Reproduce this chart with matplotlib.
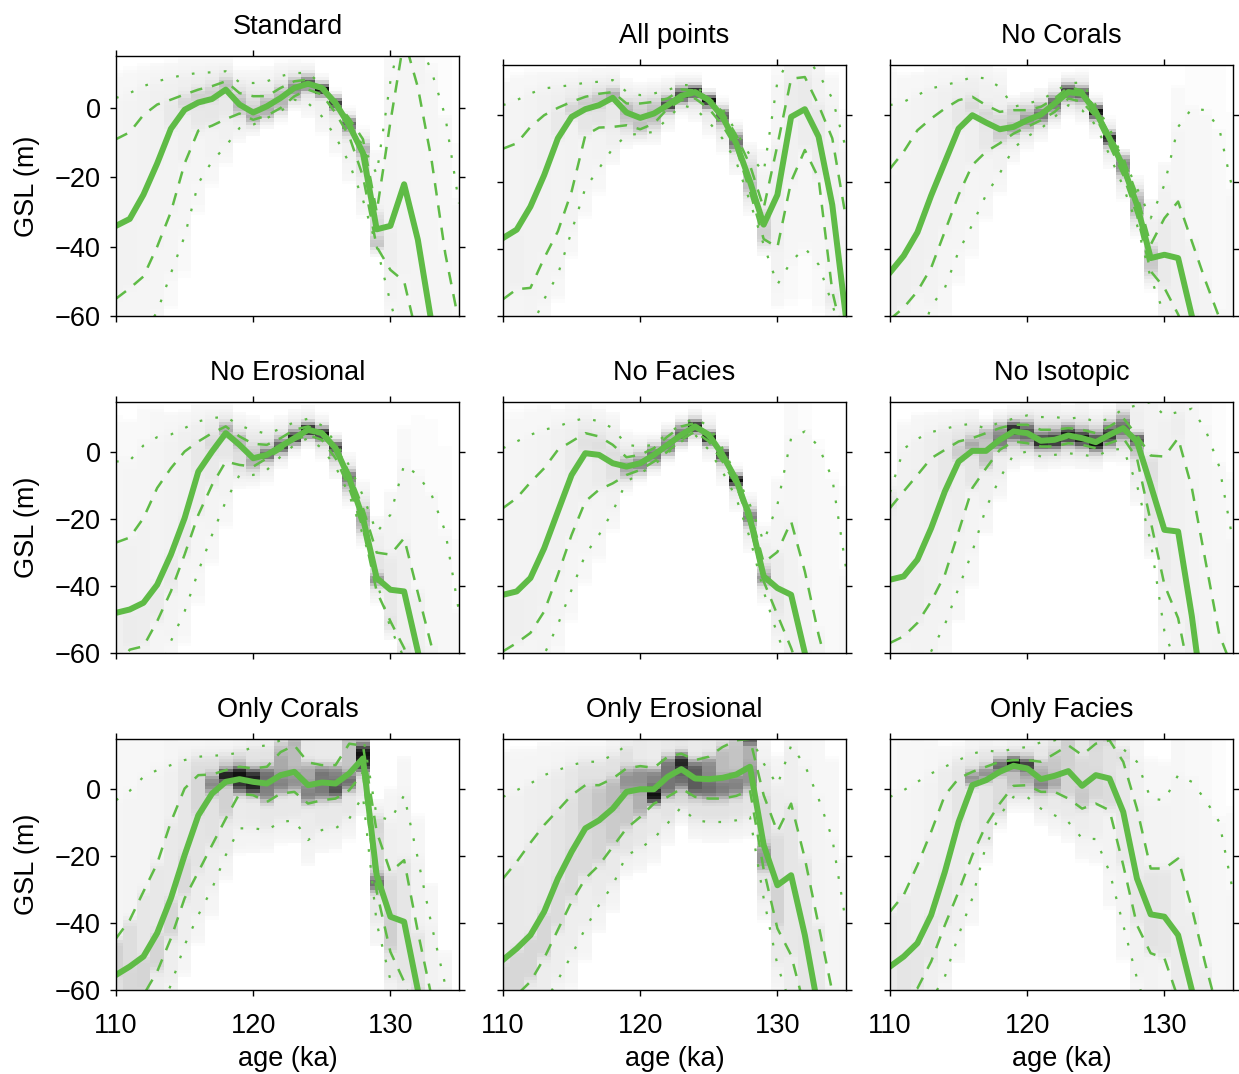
"""Sea-level reconstructions (GSL vs age) for nine data subsets, 3x3 panels."""

import matplotlib
import numpy as np

matplotlib.use("Agg")
import matplotlib.pyplot as plt
from matplotlib.colors import LinearSegmentedColormap

plt.rcParams["font.family"] = ["Liberation Sans", "DejaVu Sans"]
plt.rcParams["font.size"] = 19.5

ages = np.arange(110, 136)  # ka, one value per 1 ka

titles = ["Standard", "All points", "No Corals",
          "No Erosional", "No Facies", "No Isotopic",
          "Only Corals", "Only Erosional", "Only Facies"]

# percentiles: p2 = 2.5%, p16, p50 (median), p84, p97 = 97.5%
standard_p50 = [-34, -32, -25, -16, -6, -0.5, 1.6, 2.6, 5.3, 1, -1.3, 0.5, 2.9, 5.8, 7, 5.8, 1.4, -5, -13, -35, -34, -22, -38, -62, -85, -100]
standard_p84 = [-9, -7, -2, 1, 2.4, 3.9, 5.3, 6.3, 7.7, 4.3, 3.4, 3.4, 5.8, 7.7, 8.2, 5.3, 2, -3, -9, -30, -4, 20, 6, -15, -42, -62]
standard_p16 = [-55, -52, -48.6, -40, -30, -16, -6.5, -5.1, -3.2, -1.6, -3.4, -2.2, 0, 3.4, 5.3, 3.9, -1.4, -8.2, -19.7, -40, -46.7, -50, -67, -80, -95, -110]
standard_p97 = [2.9, 4.3, 6.3, 7.7, 8.7, 9.6, 10.1, 10.3, 10.6, 7.4, 7.2, 7.7, 9.2, 10.1, 10.1, 6.7, 2.4, -4, -11, -19, 7.7, 25, 20, 10.6, -2.4, -27.5]
standard_p2 = [-75, -70, -65, -58.8, -47.7, -37, -21.7, -15.4, -11, -5.8, -4.8, -2.9, -1, 2.4, 1.4, -2.4, -8.2, -15.9, -26.5, -40, -56, -70, -85, -100, -115, -130]

allpts_p50 = [-36.7, -34.2, -27.3, -17.9, -6.9, -0.5, 1.8, 3, 5.2, 0.8, -0.8, 0.5, 3, 5.8, 6.9, 4.5, -0.5, -8.4, -19.8, -32.7, -23.8, -0.5, 1.8, -6.4, -26.8, -60.5]
allpts_p84 = [-10, -8.4, -3.5, 0, 2.2, 4, 5.5, 6.4, 6.9, 3.5, 3.5, 4, 5, 7.7, 7.4, 5, 1, -6, -14.9, -27.8, -9, 10.9, 11.4, 3, -6.9, -30.8]
allpts_p16 = [-55, -52, -51.6, -42.7, -34.7, -22.8, -6, -3.7, -3.5, -3, -4.2, -2.5, 2, 4.5, 5, 2, -3, -9.9, -22.8, -37, -39.5, -19.8, -10.4, -18.8, -52.6, -70]
allpts_p97 = [3, 4.5, 6.5, 8, 8.5, 9, 9.7, 10, 10.5, 7, 6, 6.5, 7.5, 9, 9, 5, 2, -5, -12, -17, 10, 18, 18, 12.4, 5, -10]
allpts_p2 = [-75, -70, -64, -55, -47.6, -34.7, -21.8, -15.9, -9.9, -6, -5.5, -5, -1, 3, 2, -2, -7, -13.9, -25.8, -38.7, -50.6, -43.7, -39.7, -44.6, -56.5, -70]

nocor_p50 = [-47, -42, -35, -24, -14, -4, 0, -2.2, -4.2, -3.5, -1.5, 0.2, 3.5, 6.9, 6.4, 1, -6.9, -15.4, -26.8, -42.7, -41.7, -42.7, -60, -80, -95, -110]
nocor_p84 = [-16, -10.9, -4.5, -1, 2, 4.5, 5.5, 3, 1, 1.5, 1.5, 2.5, 5, 8.4, 7.4, 2, -6, -12.9, -23.8, -38.7, -30.8, -25.8, -37.7, -49.6, -60.5, -70]
nocor_p16 = [-61, -57.5, -52.6, -45.6, -34.7, -23.8, -14.9, -10.9, -8.4, -5.5, -3.5, -1.5, 1, 5, 4, -0.5, -8.9, -17.9, -29.8, -46.6, -51.6, -59.5, -70, -85, -100, -115]
nocor_p97 = [3, 4, 6, 8, 9, 10, 11.4, 11, 8.4, 2.5, 3.5, 4.5, 7, 9.5, 9.8, 3, -4, -12.9, -21.8, -30.8, -20.8, -3.5, 2, 1.5, -4, -22.8]
nocor_p2 = [-80, -75, -70, -57, -51.6, -40.7, -32.7, -23.8, -17.4, -9.9, -6.4, -4, -0.5, 3, 1.5, -3, -11.9, -21.3, -32.7, -48.6, -59.5, -70, -85, -100, -115, -130]

noero_p50 = [-48, -47, -45, -39.6, -30.6, -19.7, -5.8, 0.2, 5.7, 2.2, -1.8, -0.8, 1.7, 4.2, 6.7, 5.7, 1.2, -7.8, -19.7, -37.6, -41.1, -41.6, -59.5, -80, -95, -110]
noero_p84 = [-27, -25.5, -19.7, -10.7, -4.8, 0.2, 3.2, 5.7, 7.7, 4.7, 2.5, 2.2, 4.2, 6.7, 7.7, 6.2, 2.2, -6.3, -16.7, -30, -30.6, -25.7, -42, -58, -75, -90]
noero_p16 = [-65, -59, -58, -50.5, -41.6, -30.6, -18.7, -9.8, -2.8, -3.8, -4.3, -1.8, 0.7, 3.7, 5.2, 3.7, -1.8, -10.7, -22.7, -41.6, -50.5, -58.5, -70, -85, -100, -115]
noero_p97 = [-2.8, -2.5, 2, 4.5, 5.3, 7.2, 9.2, 10.2, 10.6, 8, 6.5, 5.5, 7, 9, 10, 8, 3, -4, -13, -24, -18.7, -3.8, -6.8, -12.7, -23.7, -47.6]
noero_p2 = [-85, -80, -75, -68, -56.5, -47.6, -35.6, -24.7, -14.7, -6.8, -6.8, -5.3, -1.3, 2.2, 4.2, 1.2, -4.3, -12.7, -24.7, -38.6, -52.5, -61.5, -75, -90, -105, -120]

nofac_p50 = [-42.6, -41.6, -37.6, -28.7, -17.7, -6.8, -0.3, -0.8, -3.3, -4.3, -3.3, -0.8, 2.2, 5.2, 7.7, 5.2, -0.8, -8.3, -19.7, -37.1, -40.6, -42.6, -60, -80, -95, -110]
nofac_p84 = [-16.7, -13.7, -9, -4.8, 0.7, 3.2, 5.7, 4.7, 2.2, -1.5, -0.8, 1.2, 4.7, 7.7, 8.7, 4.2, 0.2, -7.8, -17.7, -33, -29.8, -20.7, -35.6, -54.5, -70, -85]
nofac_p16 = [-59.5, -57, -54, -47.6, -36.6, -24.7, -14.7, -11.2, -9.3, -6.8, -5.3, -2.8, 0.2, 3.7, 6.2, 3.2, -2.8, -9.8, -21.7, -38.6, -48.6, -58.5, -70, -85, -100, -115]
nofac_p97 = [1.2, 3.2, 5.2, 6.7, 7.7, 9.2, 10.2, 9.2, 7.2, 2.2, 1.7, 2.2, 5.7, 8.2, 10.2, 7.7, 1.2, -6.8, -15.7, -26.7, -15.7, 4.2, 6.2, 1.7, -7.8, -34.6]
nofac_p2 = [-85, -78, -70, -60.5, -51.5, -41.1, -30.6, -24.7, -17.7, -8.8, -6.3, -3.8, -0.3, 3.2, 5.2, 0.7, -5.8, -13.7, -25.7, -41.6, -54.5, -65, -80, -95, -110, -125]

noiso_p50 = [-38.1, -37.1, -32.1, -22.7, -11.7, -2.8, 0.4, 0.4, 3.7, 6.2, 5.7, 3.4, 3.7, 5, 4.2, 3, 5.2, 7.2, 3.2, -9.8, -23.2, -23.7, -49, -80, -95, -110]
noiso_p84 = [-16.7, -11.7, -6.8, -1.8, 0.7, 3.2, 4.2, 5.7, 7.2, 8.2, 8.2, 6.7, 6.7, 7.2, 6.7, 5.7, 7.7, 10.2, 5, -1, -1.3, 4.2, -10.7, -32.6, -54.5, -65]
noiso_p16 = [-57, -55, -51, -44.6, -36.6, -23.7, -10.7, -4.8, 0.7, 3.2, 2.7, 1.7, 1.7, 2.7, 2.2, 1.2, 2.7, 4.2, -1.8, -20.7, -39.6, -49.6, -70, -85, -100, -115]
noiso_p97 = [-12, 1, 4, 6, 7, 8, 8.5, 7, 9, 10, 11, 10.5, 10.5, 10, 10.5, 9, 10, 13, 14, 15, 11, 12, 13, 6.7, -4.3, -26.7]
noiso_p2 = [-80, -75, -68, -59.5, -51.5, -40.6, -29.7, -16.7, -7.8, -0.8, 0.2, -1.3, -0.8, -0.3, -0.8, -1.3, 0.7, 1, -9.8, -26.7, -53.5, -65, -80, -95, -110, -125]

onlycor_p50 = [-55.5, -53, -50, -43, -32.6, -19.7, -7.8, -1.3, 2.2, 3, 2.2, 1.7, 4.2, 5.2, 1.2, 2, 1.7, 4.7, 9.2, -25.7, -38.1, -39.6, -60, -80, -95, -110]
onlycor_p84 = [-44.6, -39.1, -30.6, -22.2, -9.8, 0.2, 4.2, 4.4, 5.7, 6.7, 6.2, 6.7, 11.1, 13.1, 8, 7.2, 7.2, 13.6, 13, -12.7, -24.7, -21.2, -42.6, -62, -75, -90]
onlycor_p16 = [-70, -65, -61.5, -54.5, -44.6, -32.6, -24.7, -16.7, -8.8, -1.3, -1.8, -3.8, -1.3, -0.8, -4.3, -3.3, -2.8, -0.3, 5, -30.6, -48.6, -57.5, -70, -85, -100, -115]
onlycor_p97 = [-3.3, -0.5, 3.7, 5.7, 7.2, 8.7, 9.7, 10, 10.2, 11, 12.6, 13.1, 14.6, 16, 17, 17, 17, 17, 16, -8, -9.3, -1.8, -20.7, -40.6, -58.5, -75]
onlycor_p2 = [-90, -85, -78, -68, -58.5, -46.6, -37.6, -29.7, -19.7, -11.7, -11.7, -12.2, -9.8, -9.3, -15.2, -12.2, -11.7, -8.8, -2, -40, -57, -70, -85, -100, -115, -130]

onlyero_p50 = [-51, -47.6, -43.6, -36.6, -26.7, -18.7, -11.7, -9.3, -5.8, -0.8, 0, 0, 3.7, 6, 3.2, 3, 3.4, 4.4, 6.7, -16.7, -28.7, -25.7, -43.6, -66, -85, -100]
onlyero_p84 = [-26.7, -21.7, -16, -10.7, -6.3, -1.8, 1.2, 1.2, 3.2, 6.2, 6.9, 6.4, 9.7, 10.6, 8.7, 9.7, 12.6, 14.6, 15, -1.8, -12.7, -4.3, -20.7, -40.6, -60.5, -75]
onlyero_p16 = [-65, -61.5, -57.5, -50.5, -42, -33.6, -26.7, -22.7, -17.2, -11.7, -8.3, -4.3, -2.3, 0.2, -2.3, -2.8, -2.8, -2, -0.3, -24, -41.6, -49.6, -65.5, -80, -95, -110]
onlyero_p97 = [-2.3, -0.3, 1.7, 4.2, 5.7, 7.2, 8.2, 8.2, 10.2, 13.1, 18, 19, 20, 20, 20, 20, 20, 20, 16, 7.7, 1.2, 13, 7.2, -2.8, -14.7, -40]
onlyero_p2 = [-85, -78, -72, -64, -57, -49.6, -41.6, -34.6, -28.7, -19.7, -17.7, -14.7, -10.2, -5.3, -9.3, -9.8, -9.8, -9.3, -8.3, -32.6, -52.5, -65, -80, -95, -110, -125]

onlyfac_p50 = [-53, -50, -46, -37.6, -24.7, -9.8, 1.2, 2.7, 5.2, 7, 6.2, 3, 4, 5.4, 1, 4.2, 3.2, -6.8, -26.7, -37.4, -38.1, -43.6, -60, -75, -90, -105]
onlyfac_p84 = [-36.6, -31.6, -22.7, -12.7, -1.8, 3.2, 5.2, 6.7, 8.2, 8.7, 8.7, 8.2, 10.6, 13.1, 10.2, 13.6, 14.6, 8.2, -5.8, -23.7, -23.7, -20.7, -35.6, -52.5, -68, -80]
onlyfac_p16 = [-70, -62.5, -59.5, -51.5, -40.6, -30.6, -19.7, -10.7, -4.3, 1, 1.2, -0.8, -0.8, -2.8, -5.8, -4.3, -6.3, -22.7, -40.6, -49, -50.5, -62.5, -75, -90, -105, -120]
onlyfac_p97 = [-2.3, -0.3, 2.2, 4.7, 6.7, 8.7, 10.6, 11.6, 11.1, 12.1, 12.6, 14, 14.6, 16, 16, 17, 17, 12, 8.2, -2.8, -3.3, 4.2, 2.2, -3.3, -9.8, -30.6]
onlyfac_p2 = [-85, -80, -72, -63, -56, -43.6, -32.6, -16.7, -7.8, -2.3, -2.3, -5.8, -7.8, -9.8, -14.7, -14.9, -24.7, -40.6, -56.5, -70, -85, -100, -115, -130, -145, -160]

panels = [
    (standard_p2, standard_p16, standard_p50, standard_p84, standard_p97),
    (allpts_p2, allpts_p16, allpts_p50, allpts_p84, allpts_p97),
    (nocor_p2, nocor_p16, nocor_p50, nocor_p84, nocor_p97),
    (noero_p2, noero_p16, noero_p50, noero_p84, noero_p97),
    (nofac_p2, nofac_p16, nofac_p50, nofac_p84, nofac_p97),
    (noiso_p2, noiso_p16, noiso_p50, noiso_p84, noiso_p97),
    (onlycor_p2, onlycor_p16, onlycor_p50, onlycor_p84, onlycor_p97),
    (onlyero_p2, onlyero_p16, onlyero_p50, onlyero_p84, onlyero_p97),
    (onlyfac_p2, onlyfac_p16, onlyfac_p50, onlyfac_p84, onlyfac_p97),
]

GREEN = "#5fbb46"
ybins = np.arange(-100, 36, 1.0)
xedges = np.append(ages - 0.5, ages[-1] + 0.5)
probs = [0, 0.025, 0.16, 0.5, 0.84, 0.975, 1]
kern = np.array([1, 2, 3, 2, 1], float)
kern /= kern.sum()
grays = LinearSegmentedColormap.from_list(
    "grays", [(0, "#ffffff"), (0.01, "#f7f7f7"), (0.25, "#e2e2e2"),
              (0.5, "#bababa"), (0.75, "#747474"), (1, "#111111")])


def density(qs):
    # column-wise density of GSL built from the percentile curves
    cols = []
    for q in zip(*qs):
        q = np.sort(q)
        lo = q[0] - 0.5 * (q[1] - q[0]) - 1
        hi = q[4] + 0.5 * (q[4] - q[3]) + 1
        qq = np.concatenate([[lo], q, [hi]]) + np.arange(7) * 1e-6
        cdf = np.interp(ybins, qq, probs)
        cols.append(np.convolve(np.diff(cdf), kern, mode="same"))
    return np.array(cols).T


fig = plt.figure(figsize=(12.39, 10.74), dpi=100)
W, H = 1239, 1074
lefts = [116, 503, 890]
tops = [65, 402, 739]
for i, (title, qs) in enumerate(zip(titles, panels)):
    r, c = divmod(i, 3)
    top = 56 if i == 0 else tops[r]
    bottom = tops[r] + 251
    ax = fig.add_axes([lefts[c] / W, 1 - bottom / H, 343 / W, (bottom - top) / H])
    d = density(qs)
    ax.pcolormesh(xedges, ybins, d, cmap=grays, vmin=0, vmax=d.max(), shading="flat")
    p2, p16, p50, p84, p97 = qs
    for q in (p2, p97):
        ax.plot(ages, q, color=GREEN, lw=1.6, ls=(0, (1.2, 6)))
    for q in (p16, p84):
        ax.plot(ages, q, color=GREEN, lw=1.8, ls=(0, (5, 4)))
    ax.plot(ages, p50, color=GREEN, lw=4.3)
    ax.set_xlim(110, 135)
    ax.set_ylim(-60, 15)
    ax.set_xticks([110, 120, 130])
    ax.set_yticks([-60, -40, -20, 0])
    ax.tick_params(direction="out", length=4.3, width=1, top=True, right=True,
                   labelsize=19.5)
    ax.tick_params(axis="x", pad=12)
    ax.tick_params(axis="y", pad=6.5)
    for s in ax.spines.values():
        s.set_linewidth(1)
    if c != 0:
        ax.set_yticklabels([])
    else:
        ax.set_ylabel("GSL (m)", labelpad=11)
    if r != 2:
        ax.set_xticklabels([])
    else:
        ax.set_xlabel("age (ka)", labelpad=5)
    ax.set_title(title, fontsize=19.5, pad=16)

fig.savefig("out.png", dpi=100)
print("wrote out.png")
